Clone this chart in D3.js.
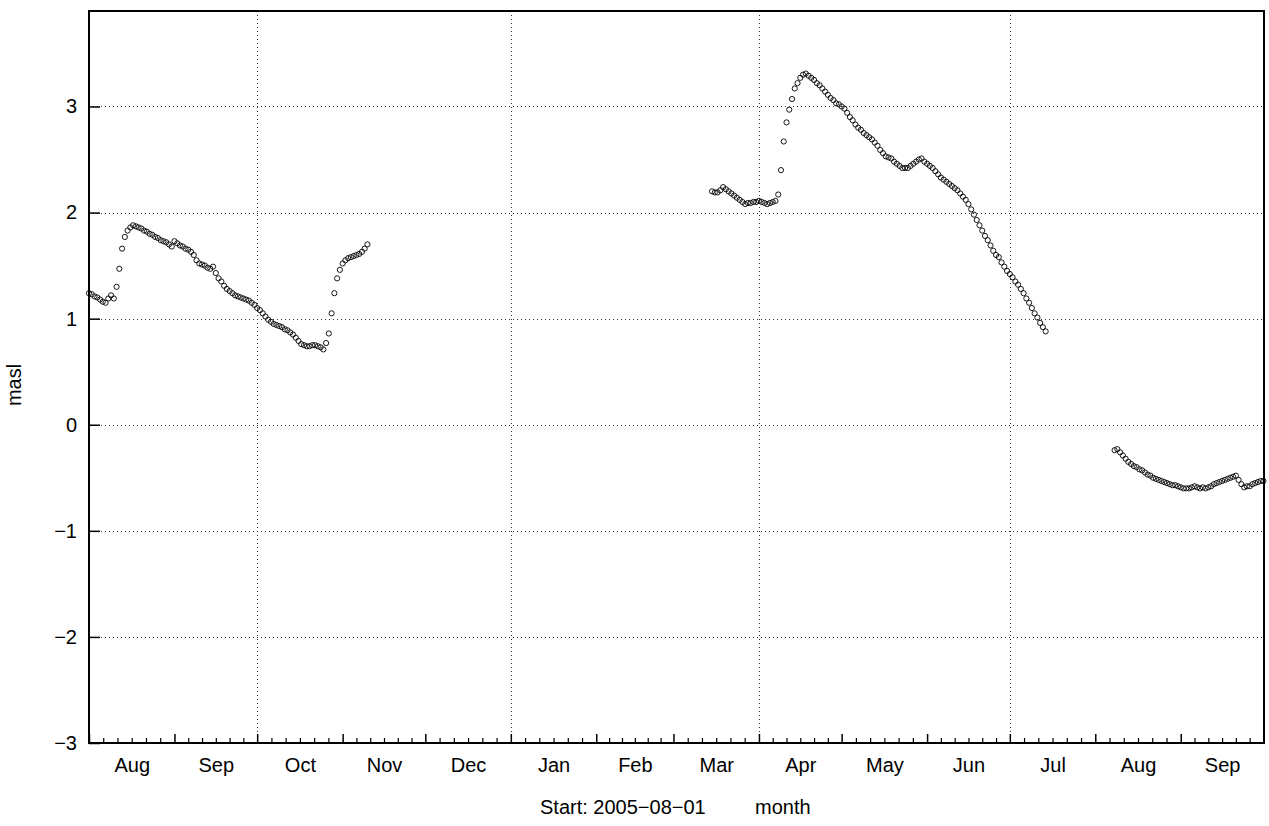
<!DOCTYPE html>
<html><head><meta charset="utf-8">
<script src="https://cdn.jsdelivr.net/npm/d3@7"></script>
<style>
body{margin:0;background:#fff}
text{font-family:"Liberation Sans",Arial,sans-serif;fill:#000}
</style>
</head><body>
<svg id="c" width="1269" height="826"></svg>
<script>
// ---- data ----
const monthLabels = ["Aug","Sep","Oct","Nov","Dec","Jan","Feb","Mar","Apr","May","Jun","Jul","Aug","Sep"];
const yTicks = [-3,-2,-1,0,1,2,3];
const xTitle = "Start: 2005\u221208\u221201";
const xUnit = "month";
const yTitle = "masl";

const seg1Start = "2005-08-01";
const seg1Values = [
 1.24,1.23,1.21,1.20,1.18,1.16,1.15,1.19,1.22,1.19,
 1.30,1.47,1.66,1.77,1.83,1.86,1.88,1.87,1.86,1.85,
 1.83,1.82,1.80,1.79,1.77,1.76,1.74,1.73,1.72,1.70,
 1.68,1.73,1.71,1.69,1.68,1.66,1.65,1.63,1.60,1.55,
 1.52,1.51,1.50,1.48,1.47,1.49,1.43,1.38,1.35,1.31,
 1.28,1.26,1.24,1.22,1.21,1.20,1.19,1.18,1.17,1.15,
 1.13,1.10,1.08,1.05,1.02,0.99,0.97,0.95,0.94,0.93,
 0.92,0.90,0.89,0.87,0.85,0.82,0.79,0.76,0.75,0.74,
 0.74,0.75,0.75,0.74,0.73,0.71,0.77,0.86,1.05,1.24,
 1.38,1.46,1.52,1.55,1.57,1.58,1.59,1.60,1.61,1.63,
 1.66,1.70
];
const seg2Start = "2006-03-15";
const seg2Values = [
 2.20,2.19,2.19,2.21,2.24,2.22,2.20,2.18,2.16,2.14,
 2.12,2.10,2.08,2.09,2.09,2.10,2.10,2.11,2.10,2.09,
 2.08,2.09,2.10,2.11,2.17,2.40,2.67,2.85,2.97,3.07,
 3.17,3.22,3.27,3.30,3.31,3.29,3.27,3.25,3.22,3.20,
 3.17,3.14,3.11,3.08,3.06,3.03,3.02,3.00,2.98,2.94,
 2.90,2.87,2.83,2.80,2.78,2.75,2.73,2.71,2.69,2.66,
 2.63,2.59,2.56,2.53,2.52,2.51,2.48,2.46,2.44,2.42,
 2.42,2.42,2.44,2.46,2.48,2.50,2.51,2.48,2.46,2.44,
 2.42,2.39,2.36,2.33,2.31,2.29,2.27,2.25,2.23,2.21,
 2.18,2.15,2.12,2.08,2.03,1.98,1.93,1.88,1.83,1.78,
 1.74,1.69,1.64,1.60,1.58,1.53,1.49,1.45,1.42,1.39,
 1.35,1.32,1.28,1.24,1.19,1.15,1.10,1.05,1.01,0.96,
 0.92,0.88
];
const seg3Start = "2006-08-08";
const seg3Values = [
 -0.24,-0.23,-0.26,-0.29,-0.32,-0.35,-0.37,-0.39,-0.40,-0.42,
 -0.43,-0.45,-0.47,-0.48,-0.50,-0.51,-0.52,-0.53,-0.54,-0.55,
 -0.56,-0.57,-0.57,-0.58,-0.59,-0.60,-0.60,-0.60,-0.59,-0.58,
 -0.59,-0.60,-0.59,-0.60,-0.59,-0.58,-0.56,-0.55,-0.54,-0.53,
 -0.52,-0.51,-0.50,-0.49,-0.48,-0.52,-0.56,-0.59,-0.58,-0.58,
 -0.56,-0.55,-0.54,-0.53,-0.53
];

// ---- build points ----
const DAY = 864e5;
function seg(start, vals){
  const t0 = Date.parse(start + "T00:00:00Z");
  return vals.map((v,i)=>({date:new Date(t0 + i*DAY), value:v}));
}
const points = [].concat(seg(seg1Start,seg1Values), seg(seg2Start,seg2Values), seg(seg3Start,seg3Values));

// ---- layout ----
const L=89, R=1264, T=11, B=743;
const svg = d3.select("#c");
const t0 = Date.UTC(2005,7,1);
const x = d3.scaleUtc().domain([new Date(t0), new Date(t0 + 426.2*DAY)]).range([L,R]);
const y = d3.scaleLinear().domain([-3,3.9]).range([B,T]);

const months = d3.utcMonth.range(new Date(t0), new Date(Date.UTC(2006,9,1)));
const gridMonths = months.filter(m=>m.getUTCMonth()%3===0);

// grid
const grid = svg.append("g").attr("stroke","#333").attr("stroke-width",1).attr("stroke-dasharray","1,3");
grid.selectAll("line.h").data(yTicks.filter(v=>v>-3)).join("line")
  .attr("x1",L).attr("x2",R).attr("y1",d=>Math.round(y(d))+0.5).attr("y2",d=>Math.round(y(d))+0.5);
grid.selectAll("line.v").data(gridMonths).join("line")
  .attr("x1",d=>Math.round(x(d))+0.5).attr("x2",d=>Math.round(x(d))+0.5).attr("y1",T).attr("y2",B);

// y axis
const yAxis = svg.append("g").attr("transform",`translate(${L},0)`)
  .call(d3.axisLeft(y).tickValues(yTicks).tickSize(-11).tickPadding(12).tickFormat(d3.format("d")));
yAxis.select(".domain").remove();
yAxis.selectAll("line").attr("stroke","#000").attr("stroke-width",1.5);
yAxis.selectAll("text").attr("font-size",20).attr("font-family",'"Liberation Sans",Arial,sans-serif');

// x axis: major ticks at month starts
const xMajor = svg.append("g").attr("transform",`translate(0,${B})`)
  .call(d3.axisBottom(x).tickValues(months).tickSize(-9).tickFormat(""));
xMajor.select(".domain").remove();
xMajor.selectAll("line").attr("stroke","#000").attr("stroke-width",1.5);

// minor ticks: each month divided into 6 parts
const minor = [];
months.forEach(m=>{
  const n = d3.utcMonth.offset(m,1);
  for(let k=1;k<6;k++) minor.push(new Date(+m + (n-m)*k/6));
});
const xMinor = svg.append("g").attr("transform",`translate(0,${B})`)
  .call(d3.axisBottom(x).tickValues(minor).tickSize(-5).tickFormat(""));
xMinor.select(".domain").remove();
xMinor.selectAll("line").attr("stroke","#000").attr("stroke-width",1.2);

// month labels at mid-month
const mids = months.map(m=>new Date((+m + +d3.utcMonth.offset(m,1))/2));
const xLab = svg.append("g").attr("transform",`translate(0,${B})`)
  .call(d3.axisBottom(x).tickValues(mids).tickSize(0).tickPadding(15).tickFormat((d,i)=>monthLabels[i]));
xLab.select(".domain").remove();
xLab.selectAll("text").attr("font-size",20).attr("font-family",'"Liberation Sans",Arial,sans-serif');

// frame
svg.append("rect").attr("x",L).attr("y",T).attr("width",R-L).attr("height",B-T)
  .attr("fill","none").attr("stroke","#000").attr("stroke-width",2);

// points
svg.append("g").selectAll("circle").data(points).join("circle")
  .attr("cx",d=>x(d.date)).attr("cy",d=>y(d.value)).attr("r",2.6)
  .attr("fill","none").attr("stroke","#000").attr("stroke-width",0.9);

// titles
svg.append("text").attr("x",540).attr("y",814).attr("font-size",20).text(xTitle);
svg.append("text").attr("x",755).attr("y",814).attr("font-size",20).text(xUnit);
svg.append("text").attr("transform","translate(21,385) rotate(-90)").attr("text-anchor","middle")
  .attr("font-size",20).text(yTitle);
</script>
</body></html>
